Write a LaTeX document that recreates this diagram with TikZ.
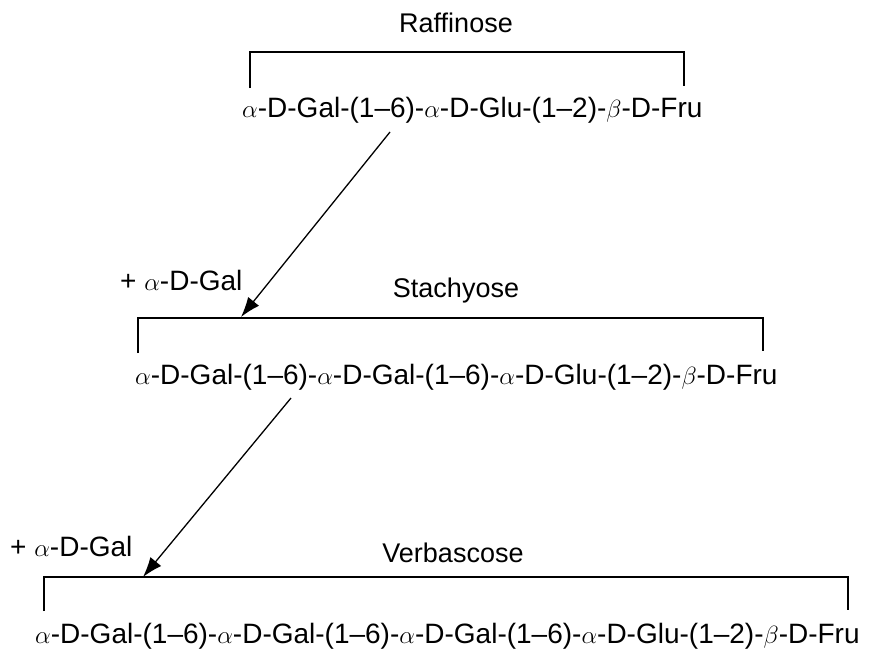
\documentclass[tikz,border=0pt]{standalone}
\usepackage{fontspec}
\setmainfont{Liberation Sans}
\usetikzlibrary{arrows.meta}
\tikzset{
  formula/.style={anchor=west, inner sep=0pt, font=\fontsize{28}{32}\selectfont},
  title/.style={inner sep=0pt, font=\fontsize{27}{31}\selectfont},
  addlabel/.style={anchor=west, inner sep=0pt, font=\fontsize{28}{32}\selectfont},
  bracket/.style={line width=1.6pt},
  rxn/.style={line width=1.3pt, -{Latex[length=20pt,width=14pt]}}
}
\newcommand{\al}{$\alpha$}
\newcommand{\be}{$\beta$}
\begin{document}
\begin{tikzpicture}[x=1pt,y=-1pt]
\useasboundingbox (0,0) rectangle (872,651);
% Raffinose
\node[title] (t1) at (456,23) {Raffinose};
\coordinate (b1l) at (250,88);
\coordinate (b1r) at (684,86);
\draw[bracket] (b1l) |- (467,52) -| (b1r);
\node[formula] (f1) at (242,110) {\al-D-Gal-(1–6)-\al-D-Glu-(1–2)-\be-D-Fru};
% arrow 1
\coordinate (a1s) at (390,132);
\coordinate (a1e) at (241,317);
\draw[rxn] (a1s) -- (a1e);
\node[addlabel] (l1) at (120,280) {+ \al-D-Gal};
% Stachyose
\node[title] (t2) at (456,291) {Stachyose};
\coordinate (b2l) at (138,353);
\coordinate (b2r) at (763,351);
\draw[bracket] (b2l) |- (450,318) -| (b2r);
\node[formula] (f2) at (135,377) {\al-D-Gal-(1–6)-\al-D-Gal-(1–6)-\al-D-Glu-(1–2)-\be-D-Fru};
% arrow 2
\coordinate (a2s) at (291,398);
\coordinate (a2e) at (143,577);
\draw[rxn] (a2s) -- (a2e);
\node[addlabel] (l2) at (10,546) {+ \al-D-Gal};
% Verbascose
\node[title] (t3) at (453,553) {Verbascose};
\coordinate (b3l) at (44,611);
\coordinate (b3r) at (848,610);
\draw[bracket] (b3l) |- (446,577) -| (b3r);
\node[formula] (f3) at (35,636) {\al-D-Gal-(1–6)-\al-D-Gal-(1–6)-\al-D-Gal-(1–6)-\al-D-Glu-(1–2)-\be-D-Fru};
\end{tikzpicture}
\end{document}
